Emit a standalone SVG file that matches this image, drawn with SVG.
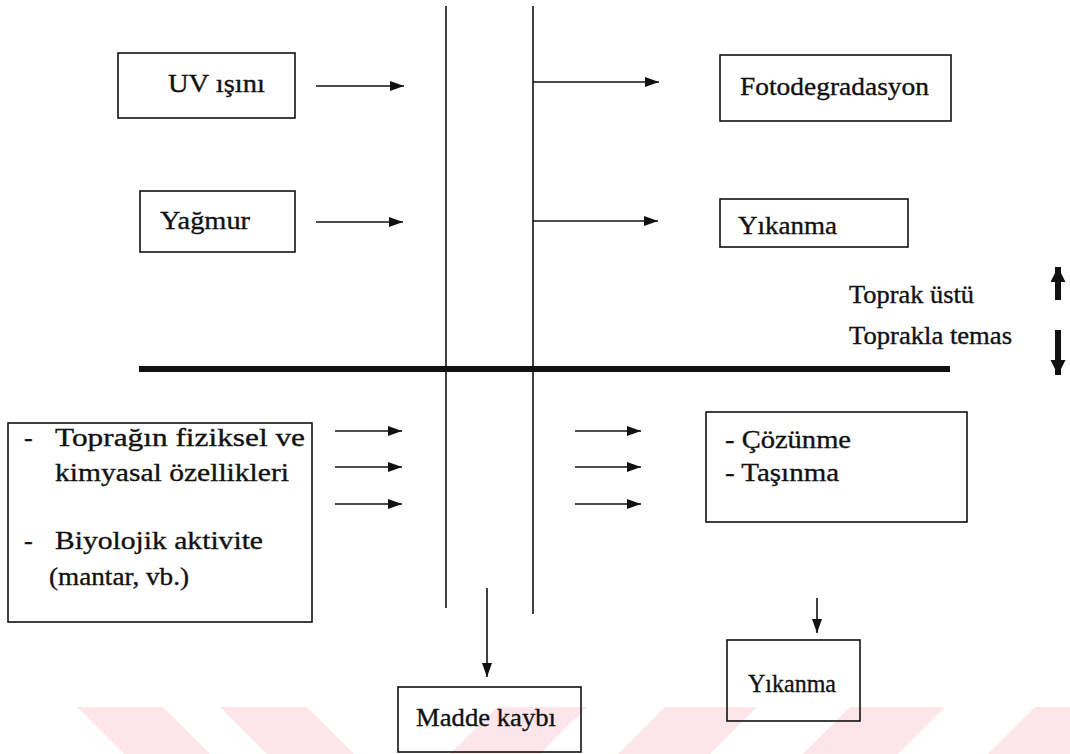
<svg xmlns="http://www.w3.org/2000/svg" width="1070" height="754" viewBox="0 0 1070 754">
  <defs>
    <style>
      .box { fill: none; stroke: #111; stroke-width: 1.6; }
      .ln { stroke: #111; stroke-width: 1.6; fill: none; }
      .arr { stroke: #111; stroke-width: 1.6; fill: none; marker-end: url(#ah); }
      .thick { stroke: #111; stroke-width: 6; fill: none; marker-end: url(#bh); }
      .wm { fill: #fde6ea; }
    </style>
    <marker id="ah" markerUnits="userSpaceOnUse" markerWidth="15" markerHeight="11" refX="14" refY="5" orient="auto">
      <path d="M0,0 L14,5 L0,10 z" fill="#111"/>
    </marker>
    <marker id="bh" markerUnits="userSpaceOnUse" markerWidth="16" markerHeight="16" refX="15" refY="7.5" orient="auto">
      <path d="M0,0 L15,7.5 L0,15 z" fill="#111"/>
    </marker>
  </defs>
  <rect width="1070" height="754" fill="#fff"/>

  <g id="watermark">
    <polygon class="wm" points="77,707 163,707 210,754 124,754"/>
    <polygon class="wm" points="220,707 307,707 354,754 267,754"/>
    <polygon class="wm" points="497,707 587,707 540,754 450,754"/>
    <polygon class="wm" points="665,707 757,707 710,754 618,754"/>
    <polygon class="wm" points="850,707 945,707 898,754 803,754"/>
    <polygon class="wm" points="1035,707 1070,707 1070,754 988,754"/>
  </g>

  <g id="lines">
    <line class="ln" x1="446" y1="6" x2="446" y2="608"/>
    <line class="ln" x1="533" y1="6" x2="533" y2="614"/>
    <line x1="139" y1="369" x2="950" y2="369" stroke="#111" stroke-width="6"/>
  </g>

  <g id="connectors">
    <line class="arr" x1="316" y1="86" x2="404" y2="86"/>
    <line class="arr" x1="316" y1="222" x2="403" y2="222"/>
    <line class="arr" x1="533" y1="82" x2="659" y2="82"/>
    <line class="arr" x1="533" y1="221" x2="658" y2="221"/>
    <line class="arr" x1="335" y1="431" x2="402" y2="431"/>
    <line class="arr" x1="335" y1="467" x2="402" y2="467"/>
    <line class="arr" x1="335" y1="504" x2="402" y2="504"/>
    <line class="arr" x1="575" y1="431" x2="641" y2="431"/>
    <line class="arr" x1="575" y1="467" x2="641" y2="467"/>
    <line class="arr" x1="575" y1="504" x2="641" y2="504"/>
    <line class="arr" x1="487" y1="588" x2="487" y2="677"/>
    <line class="arr" x1="817" y1="598" x2="817" y2="633"/>
    <line class="thick" x1="1058" y1="300" x2="1058" y2="267"/>
    <line class="thick" x1="1058" y1="330" x2="1058" y2="375"/>
  </g>

  <g font-family="Liberation Serif" font-size="26" fill="#111" stroke="#111" stroke-width="0.35">
    <g id="uv">
      <rect class="box" x="118" y="53" width="177" height="65"/>
      <text x="168" y="92" textLength="97" lengthAdjust="spacingAndGlyphs">UV ışını</text>
    </g>
    <g id="yagmur">
      <rect class="box" x="140" y="191" width="155" height="61"/>
      <text x="160" y="229" textLength="90" lengthAdjust="spacingAndGlyphs">Yağmur</text>
    </g>
    <g id="fotodegradasyon">
      <rect class="box" x="720" y="55" width="231" height="66"/>
      <text x="740" y="95" textLength="189" lengthAdjust="spacingAndGlyphs">Fotodegradasyon</text>
    </g>
    <g id="yikanma-top">
      <rect class="box" x="720" y="199" width="188" height="48"/>
      <text x="738" y="234" textLength="99" lengthAdjust="spacingAndGlyphs">Yıkanma</text>
    </g>
    <g id="legend">
      <text x="849" y="303" textLength="125" lengthAdjust="spacingAndGlyphs">Toprak üstü</text>
      <text x="849" y="344" textLength="163" lengthAdjust="spacingAndGlyphs">Toprakla temas</text>
    </g>
    <g id="toprak-faktorleri">
      <rect class="box" x="8" y="423" width="304" height="199"/>
      <text x="24" y="446">-</text>
      <text x="55" y="446" textLength="250" lengthAdjust="spacingAndGlyphs">Toprağın fiziksel ve</text>
      <text x="55" y="481" textLength="234" lengthAdjust="spacingAndGlyphs">kimyasal özellikleri</text>
      <text x="24" y="549">-</text>
      <text x="55" y="549" textLength="208" lengthAdjust="spacingAndGlyphs">Biyolojik aktivite</text>
      <text x="49" y="585" textLength="140" lengthAdjust="spacingAndGlyphs">(mantar, vb.)</text>
    </g>
    <g id="cozunme">
      <rect class="box" x="706" y="412" width="261" height="110"/>
      <text x="725" y="448" textLength="126" lengthAdjust="spacingAndGlyphs">- Çözünme</text>
      <text x="725" y="481" textLength="114" lengthAdjust="spacingAndGlyphs">- Taşınma</text>
    </g>
    <g id="yikanma-bottom">
      <rect class="box" x="727" y="640" width="133" height="81"/>
      <text x="748" y="692" textLength="88" lengthAdjust="spacingAndGlyphs">Yıkanma</text>
    </g>
    <g id="madde-kaybi">
      <rect class="box" x="398" y="687" width="183" height="65"/>
      <text x="416" y="726" textLength="140" lengthAdjust="spacingAndGlyphs">Madde kaybı</text>
    </g>
  </g>
</svg>
